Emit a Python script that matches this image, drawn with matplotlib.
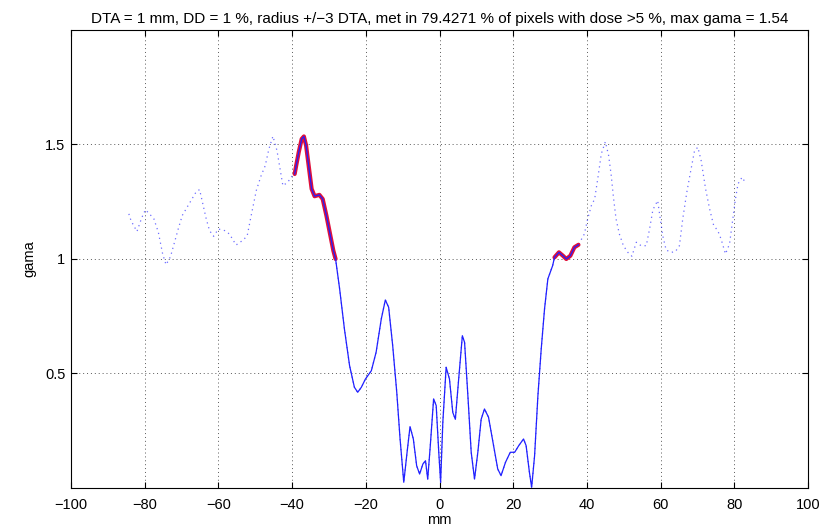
import numpy as np
import matplotlib
matplotlib.use("Agg")
import matplotlib.pyplot as plt

plt.rcParams['font.family'] = ['Liberation Sans', 'DejaVu Sans']

# Gamma index profile along the measured line (mm)
x_mm = [
    -84.3, -83.7, -82.1, -80.8, -79.8, -78.7, -77.5, -76.3, -75.1, -74.2,
    -73.0, -71.9, -70.9, -69.8, -67.8, -66.0, -65.1, -64.2, -63.3, -62.4,
    -61.3, -60.0, -58.3, -57.0, -55.2, -53.5, -52.2, -51.1, -49.7, -48.4,
    -47.3, -46.3, -45.2, -44.1, -43.4, -42.5, -41.2, -40.1,
    -39.3, -38.9, -38.2, -37.4, -36.8, -36.2, -35.5, -34.7, -33.9, -32.6,
    -31.7, -30.7, -29.7, -28.8, -28.2,
    -27.1, -25.8, -24.4, -23.1, -22.2, -21.2, -20.1, -18.5, -17.2, -15.8,
    -14.7, -13.8, -12.7, -11.6, -10.7, -9.7, -8.8, -8.0, -7.1, -6.2,
    -5.4, -4.5, -3.8, -3.2, -2.5, -1.6, -0.9, -0.2, 0.3, 0.9,
    1.8, 2.7, 3.6, 4.3, 5.2, 6.2, 6.8, 7.7, 8.6, 9.5,
    10.4, 11.3, 12.2, 13.3, 14.5, 15.8, 16.7, 17.9, 19.2, 20.4,
    21.5, 22.8, 23.5, 24.4, 25.0, 25.8, 26.7, 27.6, 28.5, 29.4,
    30.7, 31.2, 32.4, 33.5, 34.4, 35.5, 36.6, 37.7,
    39.3, 40.2, 41.2, 42.1, 43.0, 43.9, 45.0, 45.9, 46.6, 47.2,
    47.9, 48.8, 49.9, 51.1, 52.2, 53.4, 54.7, 56.1, 57.0, 57.9,
    59.2, 59.9, 60.6, 61.5, 62.9, 64.0, 65.1, 66.0, 67.1, 68.1,
    69.2, 70.1, 71.0, 72.2, 73.3, 74.4, 75.5, 76.4, 77.6, 78.7,
    79.6, 80.3, 81.0, 82.1, 83.2,
]
gamma = [
    1.197, 1.167, 1.120, 1.180, 1.215, 1.197, 1.175, 1.117, 1.020, 0.975,
    1.010, 1.073, 1.131, 1.190, 1.245, 1.294, 1.303, 1.240, 1.175, 1.124,
    1.099, 1.131, 1.124, 1.109, 1.061, 1.080, 1.100, 1.190, 1.300, 1.364,
    1.407, 1.480, 1.536, 1.473, 1.407, 1.320, 1.335, 1.360,
    1.371, 1.407, 1.466, 1.524, 1.535, 1.495, 1.407, 1.306, 1.274, 1.280,
    1.262, 1.190, 1.110, 1.036, 1.000,
    0.869, 0.694, 0.534, 0.440, 0.418, 0.440, 0.476, 0.512, 0.593, 0.738,
    0.821, 0.789, 0.621, 0.418, 0.214, 0.025, 0.156, 0.268, 0.214, 0.097,
    0.061, 0.105, 0.119, 0.039, 0.185, 0.389, 0.360, 0.156, 0.025, 0.287,
    0.527, 0.476, 0.330, 0.300, 0.476, 0.665, 0.636, 0.403, 0.156, 0.039,
    0.156, 0.300, 0.345, 0.309, 0.200, 0.083, 0.054, 0.112, 0.156, 0.156,
    0.185, 0.214, 0.185, 0.068, 0.003, 0.141, 0.403, 0.607, 0.782, 0.913,
    0.971, 1.007, 1.029, 1.014, 1.000, 1.014, 1.051, 1.062,
    1.109, 1.175, 1.233, 1.262, 1.357, 1.459, 1.512, 1.451, 1.364, 1.269,
    1.175, 1.109, 1.058, 1.029, 1.012, 1.073, 1.058, 1.058, 1.131, 1.215,
    1.255, 1.175, 1.100, 1.039, 1.029, 1.032, 1.058, 1.175, 1.291, 1.379,
    1.473, 1.488, 1.429, 1.306, 1.218, 1.146, 1.124, 1.087, 1.022, 1.066,
    1.175, 1.262, 1.328, 1.357, 1.328,
]

# Region where the dose exceeds 5 % of maximum
dose_region = (-39.3, 37.7)

title = ("DTA = 1 mm, DD = 1 %, radius +/\u22123 DTA, met in 79.4271 % "
         "of pixels with dose >5 %, max gama = 1.54")

x = np.array(x_mm)
g = np.array(gamma)
inside = (x >= dose_region[0]) & (x <= dose_region[1])
g_in = np.where(inside, g, np.nan)
g_fail = np.where(inside & (g >= 1.0), g, np.nan)

fig = plt.figure(figsize=(8.39, 5.32), dpi=100)
ax = fig.add_axes([0.0846, 0.0827, 0.8785, 0.8610])

ax.plot(x, g, color='#3030ff', linestyle=(0, (1, 3)), linewidth=0.9, alpha=0.7)
ax.plot(x, g_fail, color='#e0103a', linewidth=3.0, solid_capstyle='round')
ax.plot(x, g_in, color='#2020ff', linewidth=0.9)

ax.set_xlim(-100, 100)
ax.set_ylim(0, 2)
ax.set_xticks(np.arange(-100, 101, 20))
ax.set_yticks([0.5, 1, 1.5])
ax.set_yticklabels(['0.5', '1', '1.5'])
ax.tick_params(direction='in', top=True, right=True, length=4, width=0.8,
               labelsize=10.5)
ax.tick_params(axis='x', pad=7)
ax.tick_params(axis='y', pad=4)
ax.xaxis.set_major_formatter(matplotlib.ticker.FuncFormatter(
    lambda v, p: f"{int(v)}".replace('-', '\u2212')))
ax.grid(True, color='0.35', linestyle=(0, (1, 3)), linewidth=0.7)
for s in ax.spines.values():
    s.set_linewidth(0.8)

ax.set_xlabel('mm', fontsize=10.5, labelpad=1)
ax.set_ylabel('gama', fontsize=10.5, labelpad=6)
ax.set_title(title, fontsize=11, pad=5)

fig.savefig('out.png', dpi=100)
